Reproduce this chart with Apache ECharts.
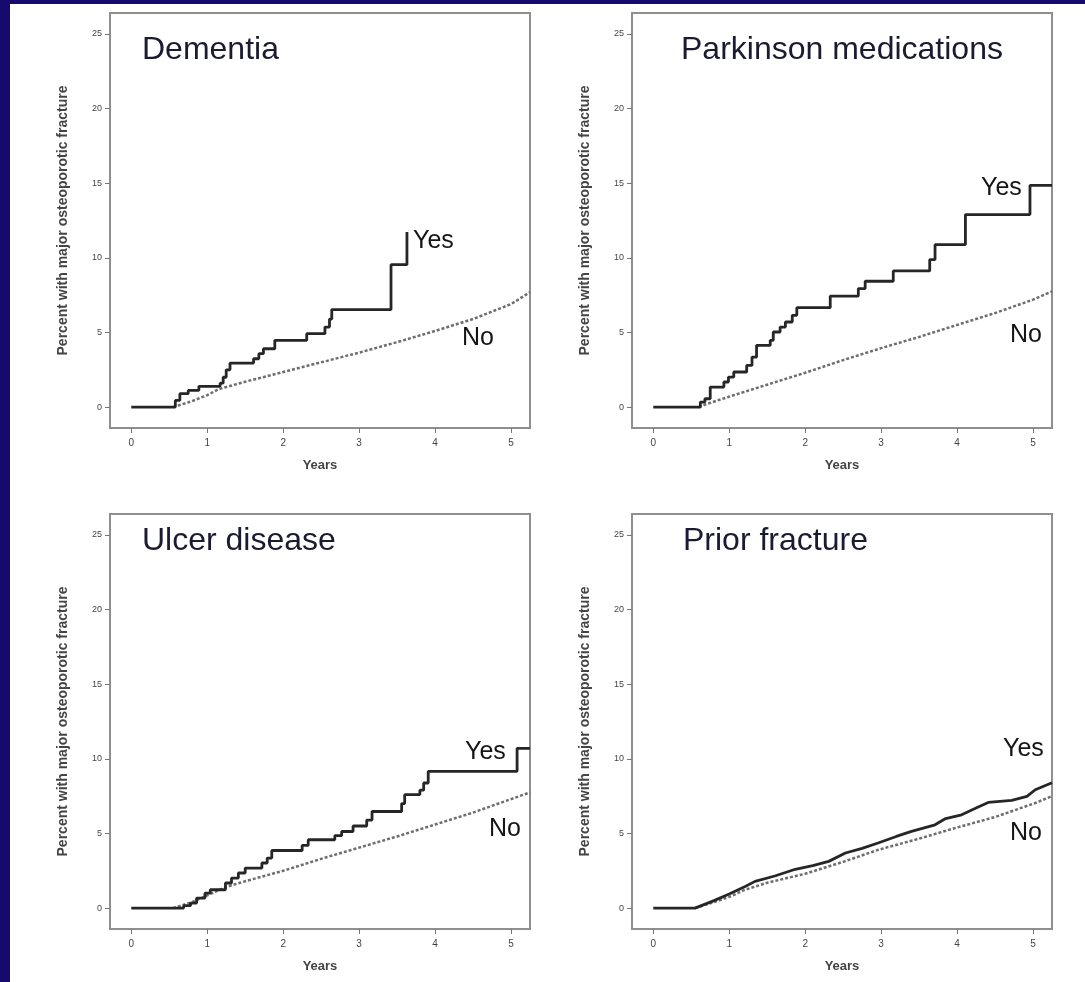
<!DOCTYPE html>
<html>
<head>
<meta charset="utf-8">
<script src="https://cdn.jsdelivr.net/npm/echarts@6/dist/echarts.min.js"></script>
<style>
html,body{margin:0;padding:0;background:#170a6e;}
#c{width:1085px;height:982px;}
</style>
</head>
<body>
<div id="c"></div>
<script>
// ---------- data (years, percent) ----------
const panelTitles = ["Dementia", "Parkinson medications", "Ulcer disease", "Prior fracture"];
const xTicks = [0, 1, 2, 3, 4, 5];
const yTicks = [0, 5, 10, 15, 20, 25];
const yAxisTitle = "Percent with major osteoporotic fracture";
const xAxisTitle = "Years";

const dementiaYes = [[0,0],[0.51,0],[0.58,0.45],[0.64,0.9],[0.75,1.12],[0.89,1.39],[1.17,1.6],[1.21,2.0],[1.25,2.5],[1.30,2.95],[1.61,3.24],[1.68,3.58],[1.74,3.91],[1.89,4.47],[2.31,4.92],[2.55,5.36],[2.61,5.9],[2.64,6.53],[3.42,9.54],[3.63,11.73]];
const dementiaNo = [[0.55,0],[0.8,0.4],[1.0,0.8],[1.15,1.2],[1.5,1.7],[2,2.35],[2.5,3.0],[3,3.65],[3.5,4.35],[4,5.1],[4.5,5.9],[5,6.9],[5.25,7.7]];

const parkinsonYes = [[0,0],[0.55,0],[0.62,0.34],[0.68,0.56],[0.75,1.34],[0.93,1.68],[0.99,2.01],[1.06,2.35],[1.23,2.79],[1.30,3.35],[1.36,4.14],[1.54,4.47],[1.58,5.03],[1.67,5.36],[1.74,5.7],[1.83,6.15],[1.89,6.66],[2.33,7.44],[2.70,7.94],[2.79,8.43],[3.16,9.12],[3.64,9.88],[3.71,10.88],[4.11,12.9],[4.96,14.85],[5.25,14.85]];
const parkinsonNo = [[0.6,0],[0.7,0.2],[1.0,0.7],[1.5,1.5],[2,2.3],[2.5,3.15],[3,3.95],[3.5,4.7],[4,5.5],[4.5,6.3],[5,7.2],[5.25,7.75]];

const ulcerYes = [[0,0],[0.58,0],[0.69,0.16],[0.78,0.34],[0.86,0.67],[0.97,1.0],[1.04,1.23],[1.24,1.68],[1.32,2.01],[1.41,2.35],[1.5,2.68],[1.72,3.02],[1.79,3.35],[1.85,3.86],[2.25,4.2],[2.33,4.58],[2.68,4.85],[2.77,5.13],[2.92,5.5],[3.1,5.9],[3.17,6.47],[3.56,7.0],[3.6,7.6],[3.8,7.9],[3.85,8.38],[3.91,9.16],[5.08,10.7],[5.25,10.7]];
const ulcerNo = [[0.55,0],[0.8,0.4],[1.0,0.85],[1.24,1.4],[1.5,1.8],[2,2.5],[2.5,3.3],[3,4.05],[3.5,4.8],[4,5.6],[4.5,6.4],[5,7.3],[5.25,7.75]];

const priorYes = [[0,0],[0.55,0],[0.8,0.5],[1.0,0.95],[1.21,1.45],[1.34,1.79],[1.6,2.15],[1.87,2.6],[2.1,2.85],[2.31,3.13],[2.53,3.69],[2.75,4.0],[2.96,4.36],[3.2,4.8],[3.4,5.14],[3.71,5.58],[3.85,6.0],[4.06,6.25],[4.25,6.7],[4.41,7.08],[4.72,7.21],[4.92,7.48],[5.03,7.93],[5.25,8.4]];
const priorNo = [[0.55,0],[0.8,0.4],[1.0,0.75],[1.21,1.23],[1.5,1.7],[2,2.3],[2.5,3.1],[2.96,3.9],[3.5,4.65],[4,5.4],[4.5,6.1],[5.03,7.04],[5.25,7.5]];

const yesSeries = [dementiaYes, parkinsonYes, ulcerYes, priorYes];
const noSeries = [dementiaNo, parkinsonNo, ulcerNo, priorNo];
const yesIsStep = [true, true, true, false];

// ---------- layout ----------
const gridPos = [
  {left: 110, top: 13}, {left: 632, top: 13},
  {left: 110, top: 514}, {left: 632, top: 514}
];
const GW = 420, GH = 415;
const titlePos = [[142, 50], [681, 50], [142, 541], [683, 541]];
const yesPos = [[413, 241], [981, 188], [465, 752], [1003, 749]];
const noPos = [[462, 338], [1010, 335], [489, 829], [1010, 833]];

const grids = [], xAxes = [], yAxes = [], series = [], graphics = [];
graphics.push({type: 'rect', shape: {x: 10, y: 4, width: 1075, height: 978}, style: {fill: '#ffffff'}, z: -10, silent: true});

for (let i = 0; i < 4; i++) {
  grids.push({left: gridPos[i].left, top: gridPos[i].top, width: GW, height: GH,
    show: true, borderColor: '#8f8f8f', borderWidth: 2, backgroundColor: 'transparent'});
  xAxes.push({
    type: 'value', gridIndex: i, min: -0.28, max: 5.25, position: 'bottom',
    axisLine: {show: false, onZero: false}, splitLine: {show: false},
    axisTick: {show: true, inside: false, length: 5, customValues: xTicks, lineStyle: {color: '#777', width: 1}},
    axisLabel: {customValues: xTicks, fontSize: 10, color: '#444', margin: 10, fontFamily: 'Liberation Sans'},
    name: xAxisTitle, nameLocation: 'middle', nameGap: 31,
    nameTextStyle: {fontSize: 13, fontWeight: 'bold', color: '#444', fontFamily: 'Liberation Sans'}
  });
  yAxes.push({
    type: 'value', gridIndex: i, min: -1.4, max: 26.4, position: 'left',
    axisLine: {show: false, onZero: false}, splitLine: {show: false},
    axisTick: {show: true, inside: false, length: 5, customValues: yTicks, lineStyle: {color: '#777', width: 1}},
    axisLabel: {customValues: yTicks, fontSize: 9, color: '#444', margin: 8, fontFamily: 'Liberation Sans'},
    name: yAxisTitle, nameLocation: 'middle', nameGap: 40,
    nameTextStyle: {fontSize: 14, fontWeight: 'bold', color: '#444', fontFamily: 'Liberation Sans'}
  });
  series.push({
    type: 'line', xAxisIndex: i, yAxisIndex: i, data: noSeries[i], showSymbol: false,
    lineStyle: {color: '#6e6e6e', width: 2.5, type: [3, 2]}, z: 2, animation: false
  });
  series.push({
    type: 'line', xAxisIndex: i, yAxisIndex: i, data: yesSeries[i], showSymbol: false,
    step: yesIsStep[i] ? 'end' : false,
    lineStyle: {color: '#262626', width: 2.8}, z: 3, animation: false
  });
  graphics.push({type: 'text', x: titlePos[i][0], y: titlePos[i][1],
    style: {text: panelTitles[i], font: '32px "Liberation Sans"', fill: '#1a1a30', verticalAlign: 'middle'}});
  graphics.push({type: 'text', x: yesPos[i][0], y: yesPos[i][1],
    style: {text: 'Yes', font: '25px "Liberation Sans"', fill: '#151515', verticalAlign: 'middle'}});
  graphics.push({type: 'text', x: noPos[i][0], y: noPos[i][1],
    style: {text: 'No', font: '25px "Liberation Sans"', fill: '#151515', verticalAlign: 'middle'}});
}

const chart = echarts.init(document.getElementById('c'), null, {renderer: 'canvas'});
chart.setOption({
  backgroundColor: '#170a6e',
  animation: false,
  grid: grids, xAxis: xAxes, yAxis: yAxes, series: series,
  graphic: graphics
});
</script>
</body>
</html>
